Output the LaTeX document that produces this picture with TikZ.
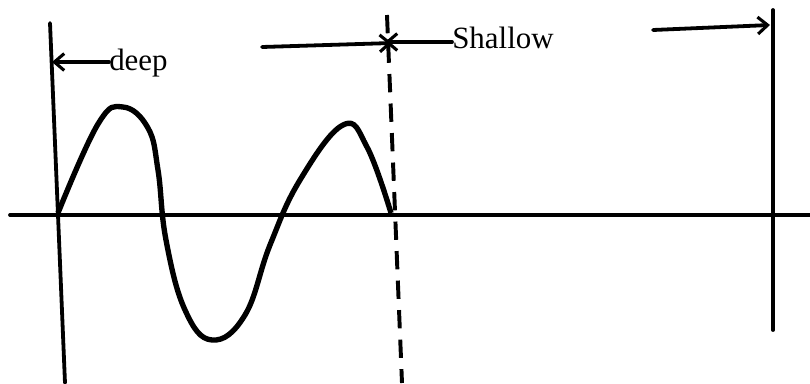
\documentclass[tikz,border=0pt]{standalone}
\usepackage{fontspec}
\setmainfont{Liberation Serif}
\usetikzlibrary{arrows.meta,positioning}

\begin{document}
\begin{tikzpicture}[x=0.025cm, y=-0.025cm, >={Straight Barb[length=7pt,width=12pt,line width=2.2pt]}]
  \useasboundingbox (0,0) rectangle (810,383);
  \tikzset{line/.style={line width=2.7pt, line cap=round},
    lbl/.style={font=\fontsize{22}{22}\selectfont, inner sep=0pt}}
  % axis and boundaries
  \draw[line] (10,215) -- (810,215);
  \draw[line] (50,23) -- (65,383);
  \draw[line] (773,10) -- (773,330);
  \draw[line width=2.8pt, dash pattern=on 13pt off 8pt] (387,15) -- (402,383);
  % labels
  \node[lbl, anchor=base west] (deep) at (109,70) {deep};
  \node[lbl, anchor=base west] (shallow) at (452,48) {Shallow};
  \coordinate (dl) at (52,62);
  \coordinate (dr) at (392,43);
  \coordinate (ds) at (262,47);
  \coordinate (sl) at (385,42);
  \coordinate (ss) at (653,30);
  \coordinate (sr) at (770,25);
  \draw[line,->] (deep.west |- dl) -- (dl);
  \draw[line,->] (ds) -- (dr);
  \draw[line,->] (shallow.west |- sl) -- (sl);
  \draw[line,->] (ss) -- (sr);
  % wave
  \draw[line width=3.8pt, line join=round] plot[smooth, tension=0.7] coordinates {
    (58,213) (98,124) (123,107) (148,128) (158,170) (166,240) (185,310) (212,340)
    (245,315) (270,245) (300,180) (343,125) (367,147) (391,213)};
\end{tikzpicture}
\end{document}
